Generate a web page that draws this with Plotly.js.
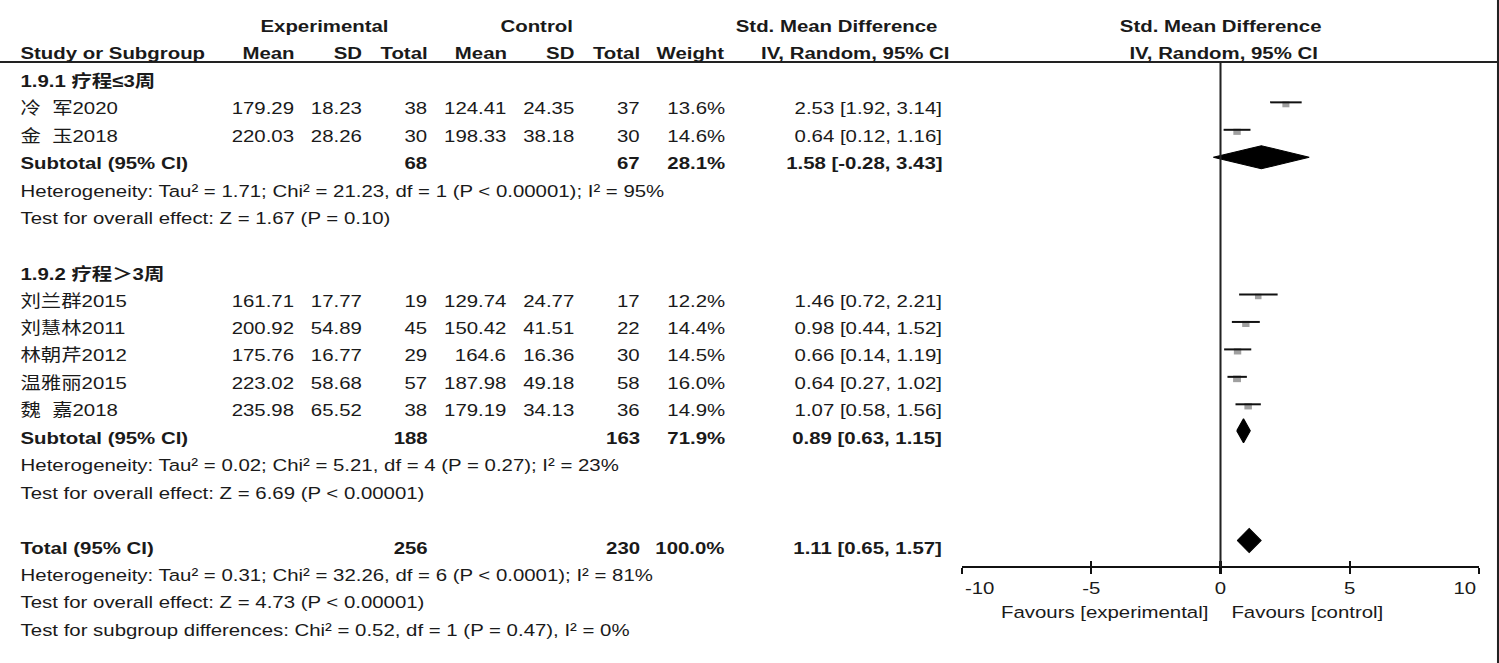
<!DOCTYPE html>
<html><head><meta charset="utf-8">
<script src="https://cdn.plot.ly/plotly-3.0.1.min.js"></script>
<style>
html,body{margin:0;padding:0;background:#fff;overflow:hidden;width:1499px;height:663px}
#chart{width:1249px;height:663px;transform:scaleX(1.20016);transform-origin:0 0}
</style>
</head><body><div id="chart"></div>
<script>
// ---------- data ----------
const studies = ['冷\u00a0\u00a0军2020','金\u00a0\u00a0玉2018','刘兰群2015','刘慧林2011','林朝芹2012','温雅丽2015','魏\u00a0\u00a0嘉2018'];
const studyGroup = [0,0,1,1,1,1,1];
const expMean = [179.29,220.03,161.71,200.92,175.76,223.02,235.98];
const expSD   = [18.23,28.26,17.77,54.89,16.77,58.68,65.52];
const expN    = [38,30,19,45,29,57,38];
const ctlMean = [124.41,198.33,129.74,150.42,164.6,187.98,179.19];
const ctlSD   = [24.35,38.18,24.77,41.51,16.36,49.18,34.13];
const ctlN    = [37,30,17,22,30,58,36];
const weight  = [13.6,14.6,12.2,14.4,14.5,16.0,14.9];
const smd     = [2.53,0.64,1.46,0.98,0.66,0.64,1.07];
const ciLow   = [1.92,0.12,0.72,0.44,0.14,0.27,0.58];
const ciHigh  = [3.14,1.16,2.21,1.52,1.19,1.02,1.56];

const subLabels = ['1.9.1 疗程≤3周','1.9.2 疗程＞3周'];
const subExpN   = [68,188];
const subCtlN   = [67,163];
const subWeight = [28.1,71.9];
const subSmd    = [1.58,0.89];
const subLow    = [-0.28,0.63];
const subHigh   = [3.43,1.15];
const subHet    = ['Heterogeneity: Tau² = 1.71; Chi² = 21.23, df = 1 (P &lt; 0.00001); I² = 95%',
                   'Heterogeneity: Tau² = 0.02; Chi² = 5.21, df = 4 (P = 0.27); I² = 23%'];
const subTest   = ['Test for overall effect: Z = 1.67 (P = 0.10)',
                   'Test for overall effect: Z = 6.69 (P &lt; 0.00001)'];

const totalExpN = 256, totalCtlN = 230, totalWeight = 100.0;
const totalSmd = 1.11, totalLow = 0.65, totalHigh = 1.57;
const totalNotes = ['Heterogeneity: Tau² = 0.31; Chi² = 32.26, df = 6 (P &lt; 0.0001); I² = 81%',
                    'Test for overall effect: Z = 4.73 (P &lt; 0.00001)',
                    'Test for subgroup differences: Chi² = 0.52, df = 1 (P = 0.47), I² = 0%'];

const tickValues = [-10,-5,0,5,10];
const favLeft = 'Favours [experimental]', favRight = 'Favours [control]';

// ---------- layout helpers ----------
const REFW = 1499, H = 663;         // reference picture size
const PW = 1249;                     // plot width before horizontal stretch
const FONT = 'Liberation Sans, Arial, Noto Sans CJK SC, sans-serif';
const FS = 17;
const TXT = '#1a1a1a';
const ty = r => 26.5 + 27.45*r;      // text row centre (px)
const my = r => ty(r) - 6.5;          // marker row centre (px)
const px = v => v / REFW;             // reference x pixel -> paper fraction

const col = {expMean:297, expSD:365, expN:430, ctlMean:509, ctlSD:577, ctlN:642, weight:727, ci:945};

const ann = [];
function t(text, xpx, row, anchor, bold) {
  ann.push({
    text: bold ? '<b>'+text+'</b>' : text,
    xref:'paper', yref:'y', x:px(xpx), y:ty(row),
    xanchor:anchor, yanchor:'middle', showarrow:false,
    font:{family:FONT, size:FS, color:TXT}
  });
}
const fmtCI = (m,l,h) => m.toFixed(2)+' ['+l.toFixed(2)+', '+h.toFixed(2)+']';

// headers
t('Experimental', 325, 0, 'center', true);
t('Control', 537, 0, 'center', true);
t('Std. Mean Difference', 837, 0, 'center', true);
t('Std. Mean Difference', 1221, 0, 'center', true);
t('Study or Subgroup', 18, 1, 'left', true);
t('Mean', col.expMean, 1, 'right', true);
t('SD', col.expSD, 1, 'right', true);
t('Total', col.expN, 1, 'right', true);
t('Mean', col.ctlMean, 1, 'right', true);
t('SD', col.ctlSD, 1, 'right', true);
t('Total', col.ctlN, 1, 'right', true);
t('Weight', col.weight, 1, 'right', true);
t('IV, Random, 95% CI', 952, 1, 'right', true);
t('IV, Random, 95% CI', 1223, 1, 'center', true);

// row assignment
const groupStartRow = [2, 9];
const studyRows = [];
const groupCount = [0,0];
studies.forEach((s,i)=>{
  const g = studyGroup[i];
  studyRows.push(groupStartRow[g] + 1 + groupCount[g]);
  groupCount[g]++;
});
const subRows = groupStartRow.map((r,g)=> r + 1 + groupCount[g]);
const totalRow = subRows[1] + 4;

studies.forEach((s,i)=>{
  const r = studyRows[i];
  t(s, 18, r, 'left', false);
  t(String(expMean[i]), col.expMean, r, 'right');
  t(String(expSD[i]), col.expSD, r, 'right');
  t(String(expN[i]), col.expN, r, 'right');
  t(String(ctlMean[i]), col.ctlMean, r, 'right');
  t(String(ctlSD[i]), col.ctlSD, r, 'right');
  t(String(ctlN[i]), col.ctlN, r, 'right');
  t(weight[i].toFixed(1)+'%', col.weight, r, 'right');
  t(fmtCI(smd[i],ciLow[i],ciHigh[i]), col.ci, r, 'right');
});
subLabels.forEach((lab,g)=>{
  t(lab, 18, groupStartRow[g], 'left', true);
  const r = subRows[g];
  t('Subtotal (95% CI)', 18, r, 'left', true);
  t(String(subExpN[g]), col.expN, r, 'right', true);
  t(String(subCtlN[g]), col.ctlN, r, 'right', true);
  t(subWeight[g].toFixed(1)+'%', col.weight, r, 'right', true);
  t(fmtCI(subSmd[g],subLow[g],subHigh[g]), col.ci, r, 'right', true);
  t(subHet[g], 18, r+1, 'left');
  t(subTest[g], 18, r+2, 'left');
});
t('Total (95% CI)', 18, totalRow, 'left', true);
t(String(totalExpN), col.expN, totalRow, 'right', true);
t(String(totalCtlN), col.ctlN, totalRow, 'right', true);
t(totalWeight.toFixed(1)+'%', col.weight, totalRow, 'right', true);
t(fmtCI(totalSmd,totalLow,totalHigh), col.ci, totalRow, 'right', true);
totalNotes.forEach((n,k)=> t(n, 18, totalRow+1+k, 'left'));

// favours labels
ann.push({text:favLeft, xref:'paper', yref:'y', x:px(1105), y:612, xanchor:'center', yanchor:'middle', showarrow:false, font:{family:FONT,size:FS,color:TXT}});
ann.push({text:favRight, xref:'paper', yref:'y', x:px(1308), y:612, xanchor:'center', yanchor:'middle', showarrow:false, font:{family:FONT,size:FS,color:TXT}});

// end tick labels sit inside the axis ends
const axisY = 567;
const lastTick = tickValues.length - 1;
ann.push({text:String(tickValues[0]), xref:'x', yref:'y', x:tickValues[0], y:axisY+21.5, xanchor:'left', yanchor:'middle', showarrow:false, font:{family:FONT,size:FS,color:TXT}});
ann.push({text:String(tickValues[lastTick]), xref:'x', yref:'y', x:tickValues[lastTick], y:axisY+21.5, xanchor:'right', yanchor:'middle', showarrow:false, font:{family:FONT,size:FS,color:TXT}});

// ---------- traces ----------
const traces = [];
// squares (sized by weight)
traces.push({
  type:'scatter', mode:'markers', x:smd, y:studyRows.map(r=>my(r)+2),
  marker:{symbol:'square', size:weight.map(w=>1.8+w*0.3), color:'#777777', line:{width:0}},
  hoverinfo:'skip', showlegend:false, cliponaxis:false
});
// CI lines
studies.forEach((s,i)=>{
  traces.push({type:'scatter', mode:'lines', x:[ciLow[i],ciHigh[i]], y:[my(studyRows[i]),my(studyRows[i])],
    line:{color:'#111', width:2}, hoverinfo:'skip', showlegend:false, cliponaxis:false});
});
// diamonds
function diamond(m,l,h,yc,hh){
  traces.push({type:'scatter', mode:'lines', x:[l,m,h,m,l], y:[yc,yc-hh,yc,yc+hh,yc],
    fill:'toself', fillcolor:'#000', line:{color:'#000', width:1}, hoverinfo:'skip', showlegend:false, cliponaxis:false});
}
diamond(subSmd[0],subLow[0],subHigh[0], my(subRows[0]), 11.5);
diamond(subSmd[1],subLow[1],subHigh[1], my(subRows[1])-1, 12);
diamond(totalSmd,totalLow,totalHigh, my(totalRow)-1, 12);

const axDomain = [px(962), px(1479)];
const layout = {
  width:PW, height:H, margin:{l:0,r:0,t:0,b:0},
  paper_bgcolor:'#fff', plot_bgcolor:'rgba(0,0,0,0)',
  showlegend:false,
  xaxis:{domain:axDomain, range:[-10,10], anchor:'free', position:1-axisY/H,
    showline:true, linecolor:'#111', linewidth:2, ticks:'outside', ticklen:6, tickwidth:2, tickcolor:'#111',
    tickvals:tickValues, ticktext:tickValues.map((v,i)=> (i===0||i===lastTick) ? '' : String(v)),
    showgrid:false, zeroline:false,
    tickfont:{family:FONT,size:FS,color:TXT}, fixedrange:true},
  xaxis2:{domain:axDomain, range:[-10,10], anchor:'free', position:1-axisY/H, overlaying:'x',
    showline:false, ticks:'inside', ticklen:6, tickwidth:2, tickcolor:'#111', tickvals:tickValues,
    showticklabels:false, showgrid:false, zeroline:false},
  yaxis:{domain:[0,1], range:[H,0], visible:false, showgrid:false, zeroline:false, fixedrange:true},
  annotations:ann,
  shapes:[
    {type:'line', xref:'paper', yref:'y', x0:0, x1:px(1497), y0:62, y1:62, line:{color:'#222', width:2}},
    {type:'line', xref:'x', yref:'y', x0:0, x1:0, y0:62, y1:axisY, line:{color:'#222', width:1.7}},
    {type:'line', xref:'paper', yref:'paper', x0:px(1498), x1:px(1498), y0:0, y1:1, line:{color:'#222', width:1.7}}
  ]
};
// invisible point so the overlay tick axis is drawn
traces.push({type:'scatter', mode:'markers', x:[0], y:[-100], xaxis:'x2', marker:{opacity:0}, hoverinfo:'skip', showlegend:false});

Plotly.newPlot('chart', traces, layout, {staticPlot:true, displayModeBar:false});
</script></body></html>
